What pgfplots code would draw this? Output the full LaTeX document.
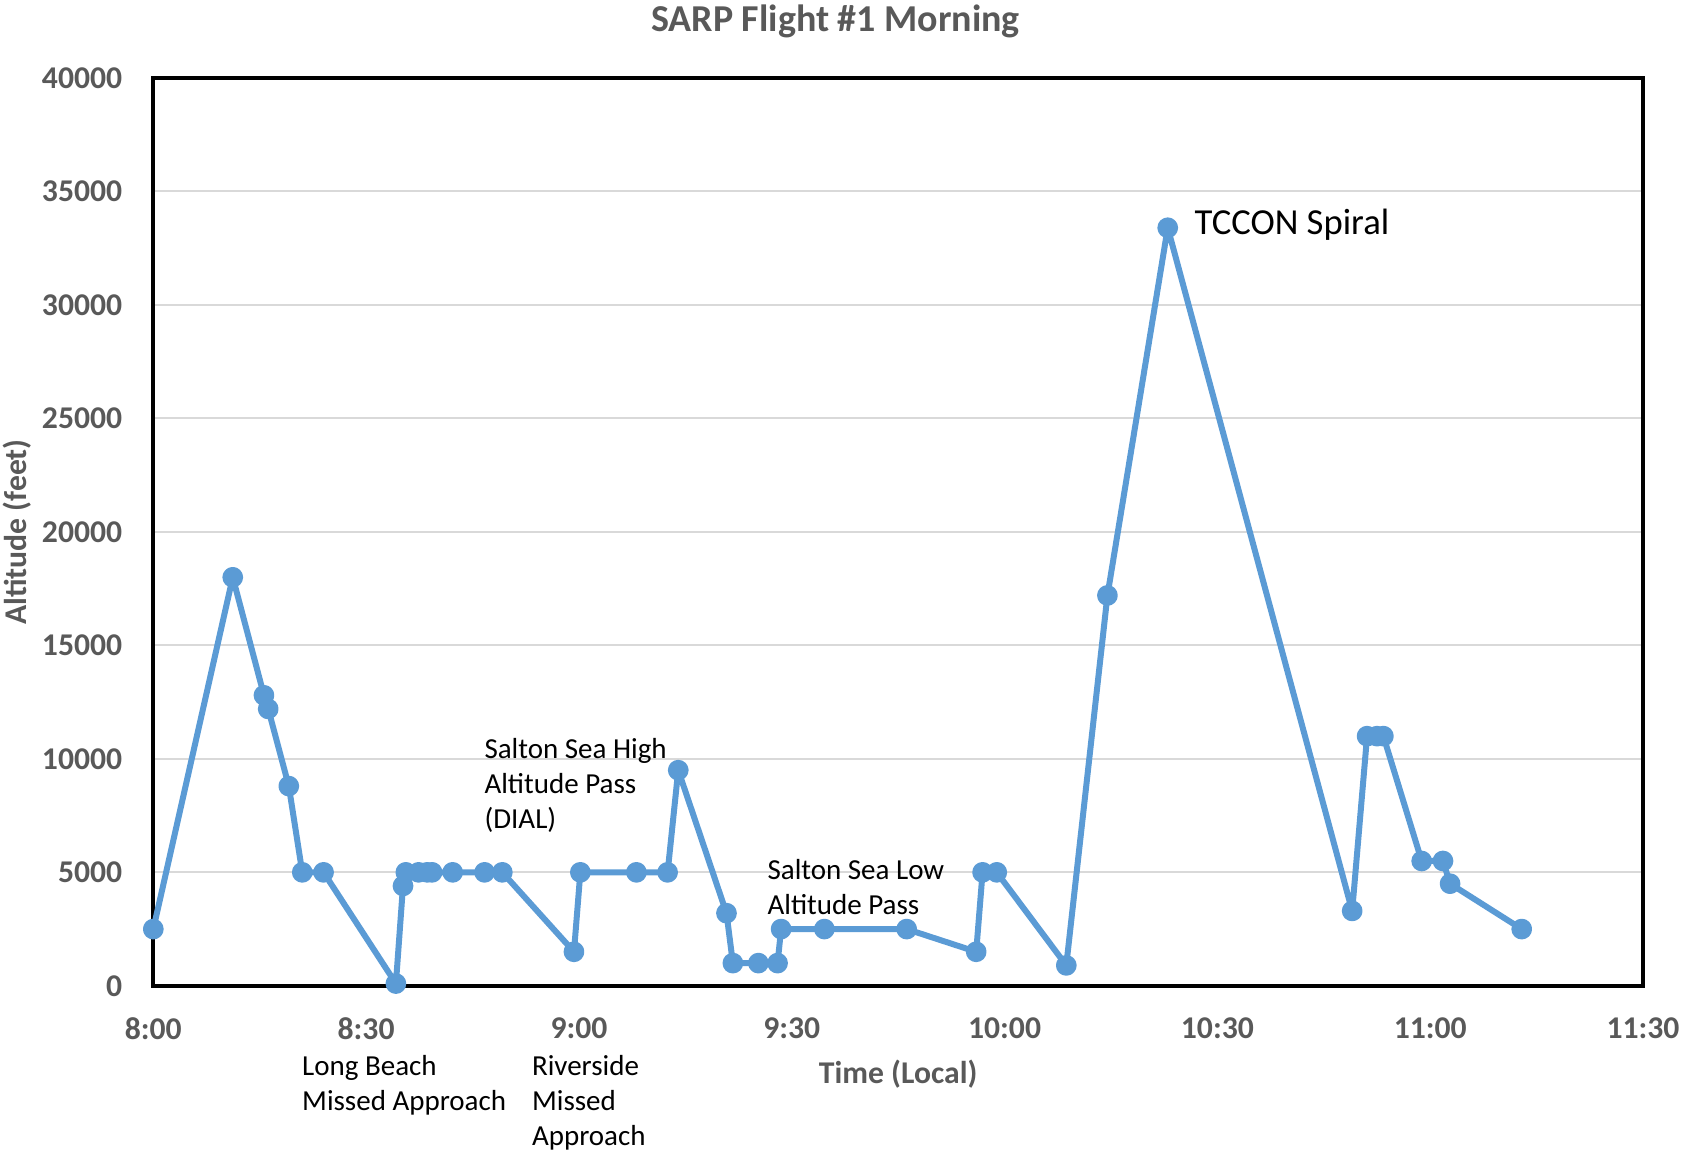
\documentclass[border=0pt]{standalone}
\usepackage{fontspec}
\setmainfont{Carlito}
\usepackage{pgfplots}
\pgfplotsset{compat=1.18}
\definecolor{lineblue}{RGB}{91,155,213}
\definecolor{labgray}{RGB}{89,89,89}
\definecolor{gridgray}{RGB}{217,217,217}
\begin{document}
\begin{tikzpicture}
\path[use as bounding box] (-46pt,-49.5pt) rectangle (459pt,295.8pt);
\begin{axis}[
  at={(0,0)}, anchor=south west,
  scale only axis, width=447pt, height=272.4pt,
  xmin=0, xmax=210, ymin=0, ymax=40000,
  clip=false,
  xtick={0,30,...,210},
  xticklabels={8:00,8:30,9:00,9:30,10:00,10:30,11:00,11:30},
  ytick={0,5000,...,40000},
  ymajorgrids,
  grid style={draw=gridgray, line width=0.6pt},
  axis line style={line width=1.2pt, black},
  major tick length=0pt,
  tick style={draw=none},
  /pgf/number format/assume math mode=true,
  scaled y ticks=false,
  yticklabel style={/pgf/number format/1000 sep={}, anchor=east, xshift=-5.8pt},
  xticklabel style={anchor=north, yshift=-6pt},
  ticklabel style={font=\fontsize{9.5}{11}\selectfont\bfseries, text=labgray},
  xlabel={Time (Local)},
  ylabel={Altitude (feet)},
  xlabel style={at={(axis description cs:0.5,-0.0969)}, anchor=center, font=\fontsize{9.5}{11}\selectfont\bfseries, text=labgray},
  ylabel style={at={(axis description cs:-0.0917,0.5)}, anchor=center, font=\fontsize{9.5}{11}\selectfont\bfseries, text=labgray},
]
\addplot[color=lineblue, line width=1.8pt, line join=round, mark=*, mark size=2.2pt, mark options={solid, fill=lineblue, draw=lineblue}] coordinates {
(0,2500) (11.2,18000) (15.6,12800) (16.2,12200) (19.1,8800) (21.0,5000)
(24.0,5000) (34.2,100) (35.2,4400) (35.6,5000) (37.4,5000) (38.6,5000)
(39.3,5000) (42.2,5000) (46.7,5000) (49.2,5000) (59.3,1500) (60.2,5000)
(68.1,5000) (72.5,5000) (74.0,9500) (80.8,3200) (81.7,1000) (85.3,1000)
(88.0,1000) (88.5,2500) (94.6,2500) (106.2,2500) (116.0,1500) (116.9,5000)
(118.9,5000) (128.7,900) (134.5,17200) (143.0,33400) (169.0,3300)
(171.1,11000) (172.5,11000) (173.4,11000) (178.8,5500) (181.8,5500)
(182.8,4500) (192.9,2500)
};
\node[anchor=center, inner sep=0pt, font=\fontsize{11.4}{13}\selectfont\bfseries, text=labgray] at (axis description cs:0.458,1.0625) {SARP Flight \#1 Morning};
\node[anchor=west, inner sep=0pt, font=\fontsize{11}{13}\selectfont] at (axis cs:146.7,33550) {TCCON Spiral};
\node[anchor=west, align=left, inner sep=0pt, font=\fontsize{8.7}{10.6}\selectfont] at (axis cs:46.6,8830) {Salton Sea High\\Altitude Pass\\(DIAL)};
\node[anchor=west, align=left, inner sep=0pt, font=\fontsize{8.7}{10.6}\selectfont] at (axis cs:86.5,4350) {Salton Sea Low\\Altitude Pass};
\node[anchor=west, align=left, inner sep=0pt, font=\fontsize{8.7}{10.6}\selectfont] at (axis cs:20.9,-4370) {Long Beach\\Missed Approach};
\node[anchor=west, align=left, inner sep=0pt, font=\fontsize{8.7}{10.6}\selectfont] at (axis cs:53.3,-5150) {Riverside\\Missed\\Approach};
\end{axis}
\end{tikzpicture}
\end{document}
